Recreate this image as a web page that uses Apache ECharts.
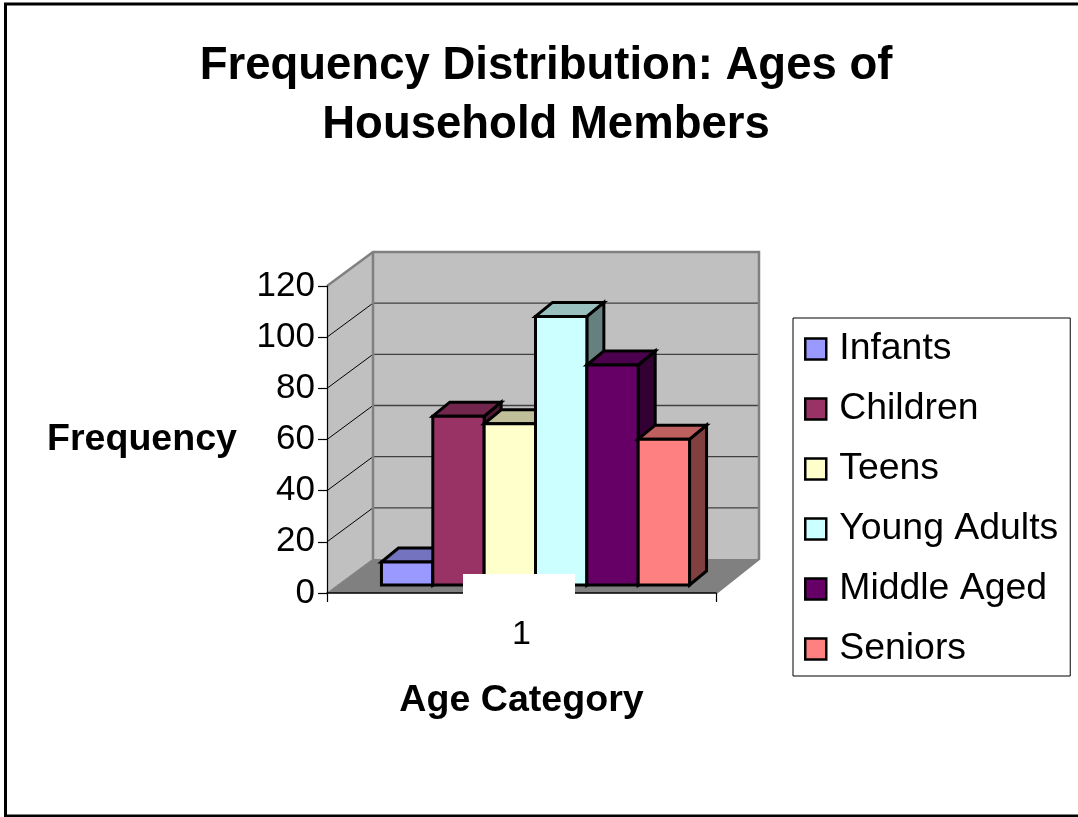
<!DOCTYPE html>
<html><head><meta charset="utf-8">
<style>html,body{margin:0;padding:0;background:#fff}#c{width:1078px;height:817px}</style>
<script src="https://cdn.jsdelivr.net/npm/echarts@6/dist/echarts.min.js"></script>
</head><body><div id="c"></div>
<script>
var titleText = "Frequency Distribution: Ages of\nHousehold Members";
var categories = ["1"];
var groups = ["Infants","Children","Teens","Young Adults","Middle Aged","Seniors"];
var frequencies = [9,66,63,105,86,57];
var colors = ["#9999FF","#993366","#FFFFCC","#CCFFFF","#660066","#FF8080"];
var yTicks = [0,20,40,60,80,100,120];
var xName = "Age Category", yName = "Frequency";

function shade(hex,k){
  var n=parseInt(hex.slice(1),16);
  return "rgb("+Math.round((n>>16&255)*k)+","+Math.round((n>>8&255)*k)+","+Math.round((n&255)*k)+")";
}
var WALL_DX=46, WALL_DY=-34, BAR_LIFT=-8, DEPTH_DX=17, DEPTH_DY=-14;

function renderWalls(params,api){
  var c0=api.coord([0,0]), c1=api.coord([0,120]), band=api.size([1,0])[0];
  var L=c0[0]-band/2, R=c0[0]+band/2, B=c0[1], T=c1[1];
  var kids=[
    {type:'polygon',shape:{points:[[L+WALL_DX,B+WALL_DY],[R+WALL_DX-3,B+WALL_DY],[R,B],[L,B]]},style:{fill:'#808080'}},
    {type:'polygon',shape:{points:[[L,T],[L+WALL_DX,T+WALL_DY],[L+WALL_DX,B+WALL_DY],[L,B]]},style:{fill:'#C0C0C0'}},
    {type:'rect',shape:{x:L+WALL_DX,y:T+WALL_DY,width:R-L-3,height:B-T},style:{fill:'#C0C0C0'}}
  ];
  yTicks.forEach(function(t){
    var y=api.coord([0,t])[1];
    if(t>0&&t<120){
      kids.push({type:'line',shape:{x1:L+WALL_DX,y1:y+WALL_DY,x2:R+WALL_DX-3,y2:y+WALL_DY},style:{stroke:'#404040',lineWidth:1.3}});
    }
    if(t<120){
      kids.push({type:'line',shape:{x1:L,y1:y,x2:L+WALL_DX,y2:y+WALL_DY},style:{stroke:t===0?'#808080':'#000',lineWidth:1}});
    }
  });
  kids.push({type:'polyline',shape:{points:[[L,T],[L+WALL_DX,T+WALL_DY],[R+WALL_DX-3,T+WALL_DY],[R+WALL_DX-3,B+WALL_DY],[R,B]]},style:{stroke:'#808080',lineWidth:2.5,fill:'none'}});
  kids.push({type:'line',shape:{x1:L+WALL_DX,y1:T+WALL_DY,x2:L+WALL_DX,y2:B+WALL_DY},style:{stroke:'#808080',lineWidth:2.5}});
  return {type:'group',children:kids};
}

function barRenderer(idx){
  return function(params,api){
    var p=api.coord([0,api.value(1)]), o=api.coord([0,0]), band=api.size([1,0])[0];
    var L0=o[0]-band/2, w=band*0.132;
    var x=L0+band*0.14+idx*w, top=p[1]+BAR_LIFT, base=o[1]+BAR_LIFT;
    var col=colors[idx], st={stroke:'#000',lineWidth:3,lineJoin:'miter'};
    function s(f){return Object.assign({fill:f},st);}
    return {type:'group',children:[
      {type:'polygon',shape:{points:[[x+w,top],[x+w+DEPTH_DX,top+DEPTH_DY],[x+w+DEPTH_DX,base+DEPTH_DY],[x+w,base]]},style:s(shade(col,0.5))},
      {type:'polygon',shape:{points:[[x,top],[x+DEPTH_DX,top+DEPTH_DY],[x+w+DEPTH_DX,top+DEPTH_DY],[x+w,top]]},style:s(shade(col,0.75))},
      {type:'rect',shape:{x:x,y:top,width:w,height:base-top},style:s(col)}
    ]};
  };
}

var series=[{type:'custom',name:'walls',silent:true,z:1,clip:false,data:[[0,0]],encode:{x:0,y:1},renderItem:renderWalls}];
groups.forEach(function(g,i){
  series.push({type:'custom',name:g,z:3+i,clip:false,itemStyle:{color:colors[i]},
    data:[[0,frequencies[i]]],encode:{x:0,y:1},renderItem:barRenderer(i)});
});

var font="'Liberation Sans',Arial,sans-serif";
var chart=echarts.init(document.getElementById('c'),null,{renderer:'canvas'});
chart.setOption({
  animation:false,backgroundColor:'#fff',
  title:{text:titleText,left:541,top:32,textAlign:'center',
    textStyle:{fontFamily:font,fontSize:45.5,fontWeight:'bold',color:'#000',lineHeight:59}},
  grid:{left:327,top:286,width:389,height:307,containLabel:false,outerBoundsMode:'none'},
  xAxis:{type:'category',data:categories,z:10,boundaryGap:true,
    name:xName,nameLocation:'middle',nameGap:89,
    nameTextStyle:{fontFamily:font,fontSize:37.6,fontWeight:'bold',color:'#000'},
    axisLine:{lineStyle:{color:'#000',width:1.5}},
    axisTick:{show:true,length:9,lineStyle:{color:'#000',width:1.2}},
    axisLabel:{fontFamily:font,fontSize:34,color:'#000',margin:25},
    splitLine:{show:false}},
  yAxis:{type:'value',min:0,max:120,interval:20,z:10,
    name:yName,nameLocation:'middle',nameRotate:0,nameGap:90,
    nameTextStyle:{fontFamily:font,fontSize:37.6,fontWeight:'bold',color:'#000',padding:[4,0,0,0]},
    axisLine:{show:true,lineStyle:{color:'#000',width:1.2}},
    axisTick:{show:true,length:9,lineStyle:{color:'#000',width:1.2}},
    axisLabel:{fontFamily:font,fontSize:35,color:'#000',margin:12,padding:[2,0,0,0]},
    splitLine:{show:false}},
  legend:{data:groups,orient:'vertical',left:793,top:318,icon:'rect',align:'left',
    backgroundColor:'#fff',borderColor:'#000',borderWidth:1,
    padding:[11,12,7,11],itemWidth:21,itemHeight:21,itemGap:20,
    itemStyle:{borderColor:'#000',borderWidth:2.5},selectedMode:false,
    textStyle:{fontFamily:font,fontSize:37.4,color:'#000',lineHeight:37,padding:[3,0,0,8]}},
  graphic:[
    {type:'rect',silent:true,z:100,shape:{x:463,y:574,width:112,height:26},style:{fill:'#fff'}},
    {type:'rect',silent:true,z:100,shape:{x:5.5,y:4,width:1200,height:812},style:{fill:'none',stroke:'#000',lineWidth:3}}
  ],
  series:series
});
</script></body></html>
